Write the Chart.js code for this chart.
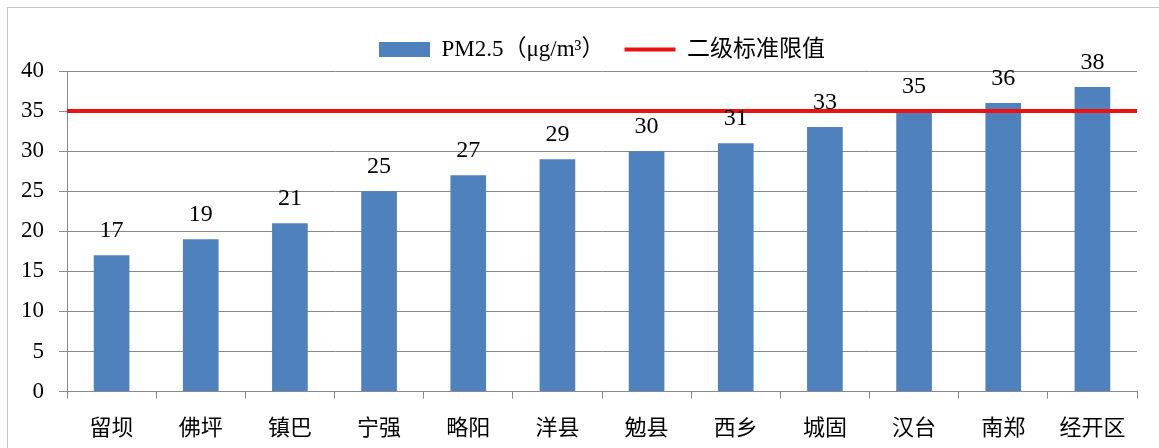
<!DOCTYPE html>
<html>
<head>
<meta charset="utf-8">
<script src="https://cdn.jsdelivr.net/npm/chart.js@4"></script>
<style>
    html, body { margin: 0; padding: 0; background: #fff; }
    body { width: 1159px; height: 448px; overflow: hidden; position: relative; }
    .frame { position: absolute; left: 7px; top: 7px; width: 1200px; height: 500px;
             border-left: 1px solid #c4c4c4; border-top: 1px solid #c4c4c4; }
    .wrap { position: absolute; left: 0; top: 0; width: 1159px; height: 455px; }
</style>
</head>
<body>
<div class="frame"></div>
<div class="wrap"><canvas id="pmChart"></canvas></div>
<script>
const stations = ["留坝", "佛坪", "镇巴", "宁强", "略阳", "洋县", "勉县", "西乡", "城固", "汉台", "南郑", "经开区"];
const pm25Values = [17, 19, 21, 25, 27, 29, 30, 31, 33, 35, 36, 38];
const limitValue = 35;
const yMin = 0;
const yMax = 40;
const yStep = 5;
const seriesNames = ["PM2.5（μg/m³）", "二级标准限值"];

// value labels above each bar
const barValueLabels = {
    id: "barValueLabels",
    afterDatasetsDraw(chart) {
        const meta = chart.getDatasetMeta(0);
        const ctx = chart.ctx;
        ctx.save();
        ctx.font = "24px 'Liberation Serif'";
        ctx.fillStyle = "#000";
        ctx.textAlign = "center";
        ctx.textBaseline = "alphabetic";
        meta.data.forEach((bar, i) => {
            ctx.fillText(pm25Values[i], bar.x, bar.y - 18);
        });
        ctx.restore();
    }
};

const ctx = document.getElementById("pmChart").getContext("2d");
new Chart(ctx, {
    type: "bar",
    data: {
        labels: stations,
        datasets: [
            {
                type: "bar",
                label: seriesNames[0],
                data: pm25Values,
                backgroundColor: "#4F81BD",
                borderWidth: 0,
                grouped: false,
                barPercentage: 0.4,
                categoryPercentage: 1,
                pointStyle: "rect",
                order: 1
            },
            {
                type: "line",
                label: seriesNames[1],
                xAxisID: "xLine",
                data: [{ x: 0, y: limitValue }, { x: 1, y: limitValue }],
                borderColor: "#EE1111",
                backgroundColor: "#EE1111",
                borderWidth: 4,
                pointRadius: 0,
                pointStyle: "line",
                order: 0
            }
        ]
    },
    options: {
        responsive: true,
        maintainAspectRatio: false,
        animation: false,
        layout: { padding: { left: 6, right: 22, top: 18, bottom: 0 } },
        scales: {
            x: {
                type: "category",
                grid: { offset: true, drawOnChartArea: false, drawTicks: true, tickLength: 7, color: "#8a8a8a" },
                border: { color: "#8a8a8a" },
                ticks: {
                    color: "#000",
                    padding: 15,
                    font: { family: "'Noto Sans CJK SC'", size: 22 }
                }
            },
            xLine: { type: "linear", min: 0, max: 1, offset: false, display: false },
            y: {
                min: yMin,
                max: yMax,
                ticks: {
                    stepSize: yStep,
                    color: "#000",
                    padding: 15,
                    font: { family: "'Liberation Serif'", size: 23 }
                },
                grid: { color: "#8a8a8a", tickLength: 8 },
                border: { color: "#8a8a8a" }
            }
        },
        plugins: {
            legend: {
                display: true,
                position: "top",
                fullSize: false,
                labels: {
                    usePointStyle: true,
                    pointStyleWidth: 51,
                    boxHeight: 15,
                    padding: 20,
                    color: "#000",
                    font: { family: "'Liberation Serif', 'Noto Sans CJK SC'", size: 23 },
                    sort: (a, b) => a.datasetIndex - b.datasetIndex
                }
            },
            tooltip: { enabled: false }
        }
    },
    plugins: [barValueLabels]
});
</script>
</body>
</html>
